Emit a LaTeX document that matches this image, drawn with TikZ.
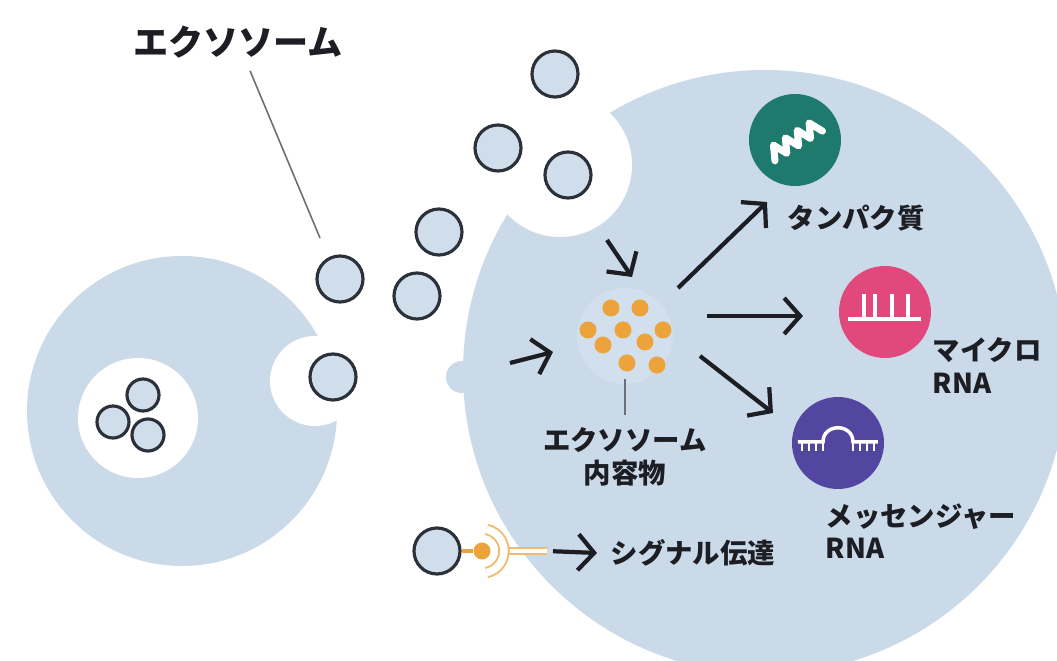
\documentclass[tikz,border=0pt]{standalone}
\usepackage{fontspec}
\newfontfamily\jp{Noto Sans CJK JP}
\usepackage{tikz}
\usetikzlibrary{arrows.meta, positioning, shapes}
\definecolor{cellblue}{HTML}{CBDAE9}
\definecolor{vesblue}{HTML}{D0DDEB}
\definecolor{vesline}{HTML}{2B3039}
\definecolor{inkblack}{HTML}{1C1E24}
\definecolor{leadgray}{HTML}{6B6F76}
\definecolor{cargoorange}{HTML}{EDA33C}
\definecolor{protgreen}{HTML}{1F7A6E}
\definecolor{mirpink}{HTML}{E1487B}
\definecolor{mrnapurple}{HTML}{5246A0}

\tikzset{
	vesicle/.style={circle, draw=vesline, fill=vesblue, line width=0.9pt, minimum size=4.6mm, inner sep=0pt},
	flow/.style={draw=inkblack, line width=1.2pt, -{Straight Barb[length=1.6mm, width=3.6mm]}},
	lead/.style={draw=leadgray, line width=0.45pt},
	icon/.style={circle, minimum size=9.2mm, inner sep=0pt},
	glyph/.style={draw=white, line width=1pt},
	receptor/.style={draw=cargoorange!75, double=white, line width=0.55pt},
	lbl/.style={font=\jp\bfseries\fontsize{7.8pt}{9.2pt}\selectfont, text=inkblack, inner sep=0pt, align=left},
}

\begin{document}
\begin{tikzpicture}[x=0.1mm, y=-0.1mm]

\useasboundingbox (0,0) rectangle (1057,661);
\fill[white] (0,0) rectangle (1057,661);
\clip (0,0) rectangle (1057,661);

% cells
\fill[cellblue] (182,411) circle[radius=15.5mm]; % donor cell
\fill[cellblue] (765,372) circle[radius=30.2mm]; % recipient cell
\fill[cellblue] (462,377) circle[radius=1.6mm];  % small bud
\fill[white] (138,418) circle[radius=6mm];       % multivesicular body
\fill[white] (315,381) circle[radius=4.5mm];     % release pocket
\fill[white] (560,165) circle[radius=7.2mm];     % uptake pocket

% vesicles in the body
\foreach \p [count=\i] in {(143,395), (113,422), (148,435)}
	\node[vesicle, minimum size=3.2mm] (mvb\i) at \p {};

% free exosomes
\foreach \p [count=\i] in {(333,377), (340,279), (417,296), (439,232), (498,148), (568,175), (555,74)}
	\node[vesicle] (exo\i) at \p {};

\node[lbl, font=\jp\bfseries\fontsize{10pt}{12pt}\selectfont] (exolbl) at (238,42) {エクソソーム};
\coordinate (exotip) at (320,238);
\draw[lead, shorten <=1.3mm] (exolbl) -- (exotip);

% cargo
\coordinate (cargo) at (625,336);
\fill[white, opacity=0.15] (cargo) circle[radius=4.8mm]; % glow
\foreach \dx/\dy in {-14/-28, 15/-28, -37/-6, -2/-6, 38/-6, -22/9, 20/6, 2/27, 32/29}
	\fill[cargoorange, shift={(cargo)}] (\dx,\dy) circle[radius=0.85mm];

\node[lbl, align=center, below=9.1mm of cargo] (cargolbl) {エクソソーム\\内容物};
\draw[lead] ([yshift=1.2mm]cargolbl.north) -- ++(0,-36);

% contents
\node[icon, fill=protgreen] (prot) at (795,140) {};
\node[icon, fill=mirpink] (mir) at (885,312) {};
\node[icon, fill=mrnapurple] (mrna) at (838,443) {};

\begin{scope}[shift={(prot)}, rotate=32]
	\draw[glyph, line width=2pt, line join=round, line cap=round] (-28,7) -- (-21,-7) -- (-14,7) -- (-7,-7) -- (0,7) -- (7,-7) -- (14,7) -- (21,-7) -- (28,7);
\end{scope}

\begin{scope}[shift={(mir)}]
	\draw[glyph] (-37,7) -- (36,7);
	\foreach \x in {-21,-10,7,23}
		\draw[glyph] (\x,7) -- (\x,-18);
\end{scope}

\begin{scope}[shift={(mrna)}]
	\draw[glyph] (-40,-1) -- (-15,-1) .. controls (-15,-20) and (15,-20) .. (15,-1) -- (40,-1);
	\foreach \x in {-36,-29,-22,-15, 15,22,29,36}
		\draw[glyph, line width=0.7pt] (\x,-1) -- (\x,8);
\end{scope}

\node[lbl, anchor=west] (protlbl) at (787,218) {タンパク質};
\node[lbl, anchor=north west] (mirlbl) at (932,337) {マイクロ\\RNA};
\node[lbl, anchor=north west] (mrnalbl) at (825,503) {メッセンジャー\\RNA};

% uptake arrows
\coordinate (intail) at (607,240);  \coordinate (inhead) at (632,277);
\coordinate (sidetail) at (510,363); \coordinate (sidehead) at (553,352);
\draw[flow] (intail) -- (inhead);
\draw[flow] (sidetail) -- (sidehead);

% release arrows
\coordinate (prottail) at (678,288); \coordinate (prothead) at (767,202);
\coordinate (mirtail) at (707,316);  \coordinate (mirhead) at (803,316);
\coordinate (mrnatail) at (700,356); \coordinate (mrnahead) at (773,413);
\draw[flow] (prottail) -- (prothead);
\draw[flow] (mirtail) -- (mirhead);
\draw[flow] (mrnatail) -- (mrnahead);

% signalling
\node[vesicle] (sigves) at (437,551) {};
\node[circle, fill=cargoorange, minimum size=1.7mm, inner sep=0pt] (ligand) at (482,551) {};
\coordinate (recout) at (547,551);
\draw[cargoorange, line width=1pt] (sigves) -- (ligand);
\draw[receptor, double distance=0.35mm] ([xshift=2.2mm]ligand.center) -- (recout);
\draw[receptor, double distance=0.75mm, shift={(ligand)}] (78:2.2mm) arc[start angle=78, end angle=-78, radius=2.2mm];
\node[lbl, anchor=west] (siglbl) at (610,553) {シグナル伝達};
\coordinate (sighead) at (597,553);
\draw[flow, shorten <=0.6mm] (recout) -- (sighead);

\end{tikzpicture}
\end{document}
